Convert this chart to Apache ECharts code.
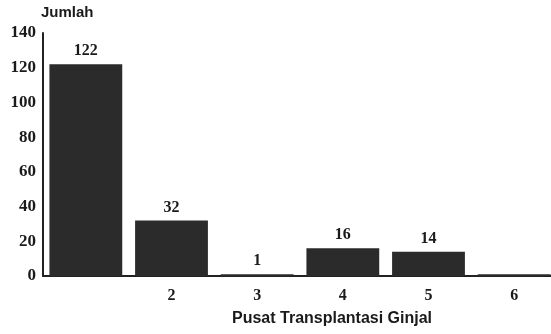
<!DOCTYPE html>
<html>
<head>
<meta charset="utf-8">
<script src="https://cdn.jsdelivr.net/npm/echarts@6/dist/echarts.min.js"></script>
<style>
  html, body { margin: 0; padding: 0; background: #fff; overflow: hidden; }
  /* the canvas is a little wider than the window so the last bar runs off the edge */
  #chart { width: 560px; height: 334px; }
</style>
</head>
<body>
<div id="chart"></div>
<script>
// Transplant centres and patient counts
const centres = ['', '2', '3', '4', '5', '6'];
const counts = [122, 32, 1, 16, 14, 1];
const valueLabels = ['122', '32', '1', '16', '14', ''];
const yTicks = [0, 20, 40, 60, 80, 100, 120, 140];

const numFont = '"Liberation Serif", "DejaVu Serif", serif';
const textFont = '"Liberation Sans", "DejaVu Sans", sans-serif';

const chart = echarts.init(document.getElementById('chart'), null, { renderer: 'canvas' });

chart.setOption({
  animation: false,
  backgroundColor: '#ffffff',
  grid: { left: 43, top: 33, bottom: 58, right: 3, containLabel: false, outerBoundsMode: 'none' },
  xAxis: {
    type: 'category',
    data: centres,
    axisLine: { show: true, lineStyle: { color: '#222', width: 2 } },
    axisTick: { show: false },
    axisLabel: {
      margin: 12,
      color: '#1a1a1a',
      fontFamily: numFont,
      fontWeight: 'bold',
      fontSize: 16
    }
  },
  yAxis: {
    type: 'value',
    min: yTicks[0],
    max: yTicks[yTicks.length - 1],
    interval: 20,
    splitLine: { show: false },
    axisLine: { show: true, lineStyle: { color: '#222', width: 2 } },
    axisTick: { show: false },
    axisLabel: {
      margin: 7,
      color: '#1a1a1a',
      fontFamily: numFont,
      fontWeight: 'bold',
      fontSize: 17
    }
  },
  series: [{
    type: 'bar',
    data: counts.map((v, i) => ({
      value: v,
      label: { show: valueLabels[i] !== '', formatter: valueLabels[i] }
    })),
    barCategoryGap: '15%',
    itemStyle: { color: '#2b2b2b' },
    label: {
      position: 'top',
      distance: 5,
      color: '#1a1a1a',
      fontFamily: numFont,
      fontWeight: 'bold',
      fontSize: 16
    }
  }],
  graphic: [
    {
      type: 'text',
      left: 41,
      top: 5,
      style: {
        text: 'Jumlah',
        fill: '#1a1a1a',
        font: 'bold 15px ' + textFont
      }
    },
    {
      type: 'text',
      left: 232,
      top: 311,
      style: {
        text: 'Pusat Transplantasi Ginjal',
        fill: '#1a1a1a',
        font: 'bold 16px ' + textFont
      }
    }
  ]
});
</script>
</body>
</html>
